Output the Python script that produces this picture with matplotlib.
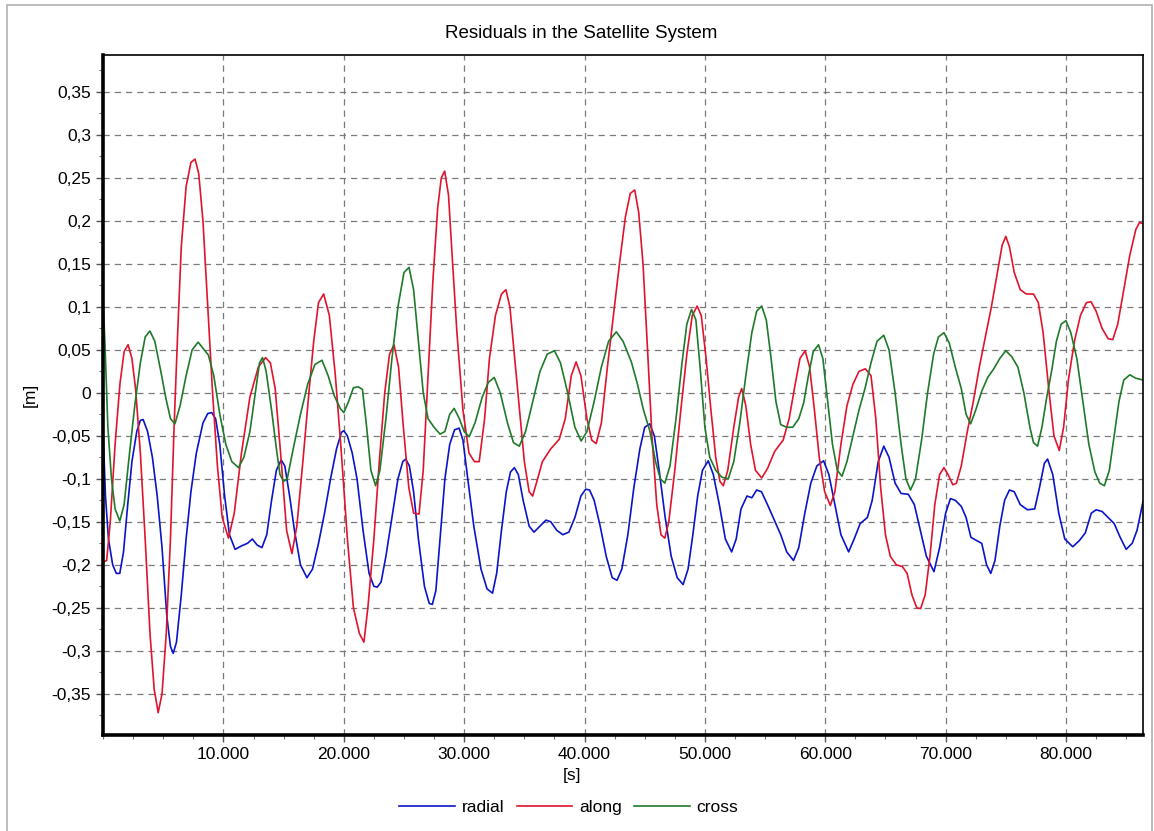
import numpy as np
import matplotlib
matplotlib.use("Agg")
import matplotlib.pyplot as plt
from matplotlib.ticker import MultipleLocator, FuncFormatter, FixedLocator

# ------------------------
# Data, (time [s], residual [m])
# ------------------------

TITLE = "Residuals in the Satellite System"

radial_pts = [
    (0, -0.044), (200, -0.12), (450, -0.17), (800, -0.2), (1100, -0.21), (1390, -0.21),
    (1700, -0.185), (2050, -0.13), (2400, -0.08), (2800, -0.045), (3100, -0.032),
    (3330, -0.031), (3700, -0.045), (4100, -0.075), (4500, -0.12), (4900, -0.18),
    (5300, -0.26), (5600, -0.295), (5830, -0.303), (6100, -0.29), (6500, -0.235),
    (6900, -0.17), (7300, -0.115), (7750, -0.07), (8300, -0.035), (8700, -0.024),
    (9030, -0.023), (9350, -0.03), (9700, -0.06), (10100, -0.12), (10500, -0.165),
    (10970, -0.182), (11500, -0.178), (12000, -0.175), (12400, -0.17), (12800, -0.177),
    (13200, -0.18), (13600, -0.165), (14000, -0.125), (14400, -0.09), (14800, -0.078),
    (15100, -0.085), (15500, -0.12), (15900, -0.16), (16400, -0.2), (16940, -0.215),
    (17400, -0.205), (17900, -0.175), (18400, -0.14), (18900, -0.1), (19400, -0.065),
    (19800, -0.046), (20000, -0.044), (20300, -0.05), (20700, -0.07), (21100, -0.1),
    (21600, -0.16), (22100, -0.21), (22500, -0.225), (22780, -0.226), (23100, -0.22),
    (23500, -0.19), (24000, -0.145), (24500, -0.1), (24900, -0.08), (25140, -0.077),
    (25450, -0.085), (25800, -0.115), (26200, -0.17), (26700, -0.225), (27100, -0.245),
    (27360, -0.246), (27650, -0.23), (28000, -0.17), (28400, -0.1), (28800, -0.06),
    (29200, -0.043), (29580, -0.041), (29900, -0.055), (30300, -0.1), (30800, -0.155),
    (31400, -0.205), (31900, -0.228), (32360, -0.233), (32700, -0.21), (33100, -0.16),
    (33500, -0.115), (33850, -0.092), (34170, -0.087), (34500, -0.095), (34900, -0.125),
    (35400, -0.155), (35800, -0.162), (36300, -0.155), (36800, -0.148), (37200, -0.15),
    (37700, -0.16), (38200, -0.165), (38700, -0.162), (39200, -0.145), (39700, -0.12),
    (40100, -0.112), (40420, -0.113), (40800, -0.125), (41300, -0.155), (41800, -0.19),
    (42300, -0.215), (42700, -0.218), (43100, -0.205), (43600, -0.165), (44100, -0.11),
    (44600, -0.065), (45000, -0.04), (45420, -0.036), (45800, -0.05), (46200, -0.09),
    (46700, -0.145), (47200, -0.19), (47700, -0.215), (48190, -0.223), (48600, -0.205),
    (49000, -0.165), (49400, -0.12), (49800, -0.09), (50280, -0.079), (50700, -0.095),
    (51200, -0.13), (51700, -0.17), (52220, -0.185), (52600, -0.17), (53000, -0.135),
    (53500, -0.12), (53900, -0.122), (54300, -0.113), (54700, -0.115), (55200, -0.13),
    (55700, -0.146), (56300, -0.165), (56800, -0.185), (57360, -0.195), (57800, -0.18),
    (58300, -0.14), (58800, -0.105), (59300, -0.085), (59860, -0.079), (60300, -0.095),
    (60800, -0.13), (61300, -0.165), (61940, -0.185), (62400, -0.17), (62900, -0.152),
    (63500, -0.145), (63900, -0.125), (64400, -0.08), (64860, -0.062), (65300, -0.075),
    (65800, -0.105), (66300, -0.117), (66900, -0.118), (67400, -0.13), (67900, -0.16),
    (68400, -0.19), (69030, -0.208), (69500, -0.18), (70000, -0.14), (70400, -0.123),
    (70800, -0.125), (71300, -0.132), (71700, -0.145), (72100, -0.168), (72600, -0.172),
    (73000, -0.175), (73400, -0.2), (73750, -0.21), (74100, -0.195), (74500, -0.155),
    (74900, -0.125), (75300, -0.113), (75700, -0.115), (76200, -0.13), (76800, -0.136),
    (77400, -0.135), (77800, -0.11), (78200, -0.082), (78470, -0.077), (78900, -0.095),
    (79400, -0.14), (79900, -0.17), (80560, -0.179), (81100, -0.172), (81600, -0.163),
    (82100, -0.14), (82500, -0.136), (83000, -0.138), (83500, -0.145), (84000, -0.152),
    (84500, -0.168), (85000, -0.182), (85500, -0.175), (85900, -0.16), (86200, -0.14),
    (86400, -0.126),
]

along_pts = [
    (0, -0.197), (300, -0.195), (600, -0.15), (1000, -0.06), (1400, 0.01), (1750, 0.048),
    (2080, 0.056), (2400, 0.04), (2700, 0.005), (3100, -0.07), (3500, -0.17),
    (3900, -0.28), (4250, -0.345), (4580, -0.372), (4900, -0.35), (5250, -0.28),
    (5600, -0.17), (5900, -0.04), (6200, 0.07), (6500, 0.17), (6900, 0.24), (7300, 0.268),
    (7640, 0.272), (7950, 0.255), (8300, 0.2), (8700, 0.1), (9100, 0.0), (9500, -0.085),
    (9900, -0.145), (10420, -0.169), (10900, -0.14), (11500, -0.07), (12200, -0.005),
    (12900, 0.03), (13500, 0.041), (13900, 0.035), (14300, 0.005), (14750, -0.07),
    (15250, -0.16), (15690, -0.187), (16100, -0.155), (16600, -0.08), (17100, 0.0),
    (17500, 0.06), (17900, 0.105), (18330, 0.115), (18800, 0.09), (19300, 0.02),
    (19800, -0.07), (20300, -0.17), (20800, -0.25), (21300, -0.28), (21670, -0.29),
    (22000, -0.25), (22500, -0.17), (22950, -0.08), (23400, 0.0), (23800, 0.045),
    (24170, 0.056), (24550, 0.03), (24950, -0.04), (25400, -0.11), (25800, -0.14),
    (26250, -0.141), (26600, -0.09), (27000, 0.02), (27400, 0.13), (27800, 0.215),
    (28100, 0.25), (28380, 0.258), (28700, 0.23), (29000, 0.16), (29400, 0.07),
    (29900, -0.02), (30400, -0.07), (30850, -0.08), (31250, -0.08), (31700, -0.03),
    (32100, 0.04), (32600, 0.09), (33100, 0.115), (33470, 0.12), (33800, 0.1),
    (34200, 0.04), (34600, -0.02), (35000, -0.08), (35400, -0.115), (35690, -0.12),
    (36000, -0.105), (36500, -0.08), (37200, -0.065), (37900, -0.054), (38400, -0.03),
    (38900, 0.02), (39300, 0.036), (39700, 0.02), (40200, -0.03), (40600, -0.055),
    (40970, -0.059), (41400, -0.035), (41900, 0.03), (42400, 0.09), (42900, 0.15),
    (43400, 0.205), (43800, 0.232), (44170, 0.236), (44500, 0.21), (44860, 0.15),
    (45200, 0.06), (45600, -0.05), (46000, -0.13), (46350, -0.165), (46670, -0.169),
    (47000, -0.15), (47500, -0.09), (48000, -0.02), (48500, 0.045), (48950, 0.09),
    (49360, 0.101), (49700, 0.09), (50100, 0.04), (50500, -0.02), (50900, -0.075),
    (51250, -0.103), (51530, -0.108), (51900, -0.09), (52400, -0.04), (52800, -0.005),
    (53060, 0.005), (53400, -0.015), (53800, -0.06), (54200, -0.09), (54720, -0.099),
    (55200, -0.088), (55800, -0.068), (56500, -0.055), (57000, -0.03), (57500, 0.01),
    (57900, 0.04), (58330, 0.049), (58700, 0.03), (59100, -0.02), (59500, -0.075),
    (59950, -0.115), (60420, -0.131), (60800, -0.115), (61300, -0.06), (61800, -0.015),
    (62300, 0.01), (62800, 0.025), (63330, 0.028), (63800, 0.02), (64200, -0.03),
    (64600, -0.11), (65000, -0.165), (65400, -0.19), (65900, -0.2), (66400, -0.202),
    (66800, -0.21), (67200, -0.235), (67600, -0.25), (67920, -0.251), (68300, -0.235),
    (68700, -0.19), (69100, -0.13), (69500, -0.095), (69860, -0.087), (70200, -0.095),
    (70600, -0.107), (70900, -0.105), (71300, -0.085), (71800, -0.045), (72300, -0.01),
    (72800, 0.03), (73300, 0.065), (73800, 0.1), (74300, 0.14), (74700, 0.172),
    (75000, 0.182), (75300, 0.17), (75700, 0.14), (76200, 0.12), (76700, 0.115),
    (77300, 0.115), (77700, 0.105), (78100, 0.07), (78600, 0.0), (79000, -0.05),
    (79440, -0.067), (79800, -0.04), (80200, 0.015), (80700, 0.06), (81200, 0.09),
    (81700, 0.105), (82080, 0.106), (82500, 0.095), (83000, 0.075), (83500, 0.063),
    (83890, 0.062), (84300, 0.08), (84800, 0.12), (85300, 0.16), (85800, 0.19),
    (86100, 0.198), (86400, 0.197),
]

cross_pts = [
    (0, 0.11), (150, 0.06), (400, -0.04), (700, -0.1), (1000, -0.135), (1390, -0.149),
    (1750, -0.13), (2200, -0.07), (2650, -0.013), (3100, 0.035), (3500, 0.065),
    (3890, 0.072), (4300, 0.06), (4800, 0.025), (5200, -0.005), (5600, -0.03),
    (5970, -0.036), (6400, -0.015), (6900, 0.02), (7400, 0.05), (7900, 0.059),
    (8300, 0.052), (8750, 0.044), (9200, 0.02), (9700, -0.025), (10200, -0.06),
    (10700, -0.08), (11250, -0.087), (11700, -0.075), (12200, -0.045), (12650, 0.0),
    (13000, 0.035), (13250, 0.041), (13550, 0.025), (14000, -0.02), (14400, -0.065),
    (14700, -0.095), (15000, -0.103), (15300, -0.1), (15800, -0.065), (16400, -0.025),
    (17000, 0.01), (17600, 0.033), (18190, 0.038), (18700, 0.02), (19200, -0.003),
    (19700, -0.018), (20000, -0.023), (20400, -0.01), (20800, 0.006), (21200, 0.007),
    (21550, 0.004), (21900, -0.04), (22250, -0.09), (22640, -0.108), (23000, -0.09),
    (23500, -0.03), (24000, 0.04), (24500, 0.1), (25000, 0.14), (25420, 0.146),
    (25800, 0.12), (26200, 0.06), (26600, 0.0), (27000, -0.03), (27500, -0.04),
    (28000, -0.048), (28400, -0.045), (28800, -0.025), (29170, -0.018), (29600, -0.03),
    (30000, -0.045), (30420, -0.051), (30900, -0.035), (31500, -0.005), (32000, 0.012),
    (32500, 0.018), (33000, 0.0), (33600, -0.035), (34100, -0.058), (34580, -0.062),
    (35100, -0.045), (35700, -0.01), (36300, 0.025), (36900, 0.045), (37500, 0.049),
    (38000, 0.035), (38600, 0.0), (39200, -0.04), (39720, -0.056), (40200, -0.045),
    (40800, -0.01), (41400, 0.03), (42000, 0.06), (42640, 0.071), (43200, 0.06),
    (43890, 0.036), (44400, 0.01), (44900, -0.02), (45420, -0.044), (45900, -0.08),
    (46300, -0.1), (46670, -0.105), (47100, -0.085), (47600, -0.03), (48100, 0.035),
    (48500, 0.08), (48890, 0.097), (49250, 0.085), (49600, 0.03), (50000, -0.04),
    (50400, -0.075), (50900, -0.09), (51400, -0.098), (51940, -0.1), (52400, -0.08),
    (52900, -0.035), (53400, 0.02), (53900, 0.07), (54300, 0.095), (54720, 0.101),
    (55100, 0.085), (55500, 0.04), (55900, -0.01), (56300, -0.037), (56800, -0.04),
    (57300, -0.04), (57800, -0.03), (58200, -0.012), (58600, 0.02), (59000, 0.048),
    (59440, 0.056), (59800, 0.04), (60200, -0.01), (60600, -0.06), (61000, -0.09),
    (61390, -0.097), (61800, -0.08), (62300, -0.05), (62800, -0.02), (63300, 0.005),
    (63800, 0.035), (64300, 0.06), (64860, 0.067), (65300, 0.05), (65800, 0.0),
    (66300, -0.06), (66700, -0.1), (67080, -0.113), (67500, -0.1), (68000, -0.055),
    (68500, 0.0), (69000, 0.045), (69400, 0.065), (69860, 0.07), (70300, 0.058),
    (70800, 0.03), (71300, 0.005), (71700, -0.025), (72080, -0.036), (72500, -0.02),
    (73000, 0.002), (73500, 0.018), (74000, 0.028), (74500, 0.04), (75000, 0.049),
    (75500, 0.042), (76000, 0.03), (76500, 0.0), (77000, -0.04), (77300, -0.058),
    (77640, -0.062), (78000, -0.04), (78400, -0.005), (78800, 0.025), (79200, 0.06),
    (79600, 0.08), (80000, 0.084), (80400, 0.07), (80900, 0.04), (81400, -0.01),
    (81900, -0.06), (82400, -0.092), (82800, -0.105), (83190, -0.108), (83600, -0.09),
    (84000, -0.05), (84400, -0.01), (84800, 0.015), (85300, 0.021), (85800, 0.017),
    (86400, 0.015),
]

SERIES = [
    ("radial", radial_pts, "#0a14c8"),
    ("along", along_pts, "#e0142d"),
    ("cross", cross_pts, "#1f7a2a"),
]

X_MAJOR = [10000, 20000, 30000, 40000, 50000, 60000, 70000, 80000]
Y_MAJOR = [-0.35, -0.3, -0.25, -0.2, -0.15, -0.1, -0.05, 0, 0.05, 0.1, 0.15, 0.2, 0.25, 0.3, 0.35]


# ------------------------
# Formatting helpers
# ------------------------

def fmt_y(v, pos):
    s = f"{v:.2f}".rstrip("0").rstrip(".")
    if s in ("-0", "0"):
        return "0"
    return s.replace(".", ",")


def fmt_x(v, pos):
    return f"{int(round(v)):,}".replace(",", ".")


# ------------------------
# Plot
# ------------------------

plt.rcParams["font.family"] = ["Liberation Sans", "DejaVu Sans"]

fig = plt.figure(figsize=(11.54, 8.31), dpi=100)
ax = fig.add_axes([0.0893, 0.1155, 0.9012, 0.8183])

for name, pts, col in SERIES:
    t, v = zip(*pts)
    ax.plot(t, v, color=col, lw=1.2, label=name)

ax.set_xlim(0, 86400)
ax.set_ylim(-0.398, 0.393)

ax.xaxis.set_major_locator(FixedLocator(X_MAJOR))
ax.xaxis.set_minor_locator(MultipleLocator(2500))
ax.yaxis.set_major_locator(FixedLocator(Y_MAJOR))
ax.yaxis.set_minor_locator(MultipleLocator(0.025))
ax.xaxis.set_major_formatter(FuncFormatter(fmt_x))
ax.yaxis.set_major_formatter(FuncFormatter(fmt_y))

ax.tick_params(axis="both", which="major", labelsize=12.5, length=5, width=1, color="#555555")
ax.tick_params(axis="both", which="minor", length=3, width=0.8, color="#777777")

ax.grid(True, which="major", color="#7a7a7a", linestyle=(0, (5, 4)), linewidth=0.9)

for side in ["left", "bottom"]:
    ax.spines[side].set_linewidth(2.6)
for side in ["top", "right"]:
    ax.spines[side].set_linewidth(1.2)

# title and x label are centred on the window, not on the axes
fig.text(0.504, 0.960, TITLE, ha="center", va="center", fontsize=13.5)
fig.text(0.496, 0.067, "[s]", ha="center", va="center", fontsize=12.5)
ax.set_ylabel("[m]", fontsize=12.5, labelpad=10)

fig.legend(loc="center", bbox_to_anchor=(0.493, 0.028), ncol=3, frameon=False,
           fontsize=12.5, handlelength=3.2, handletextpad=0.4, columnspacing=0.7)

# light frame around the whole window
fig.add_artist(plt.Rectangle((0.006, -0.01), 0.992, 1.004, transform=fig.transFigure,
                             fill=False, edgecolor="#b0b0b0", linewidth=1.2))

fig.savefig("out.png", dpi=100)
